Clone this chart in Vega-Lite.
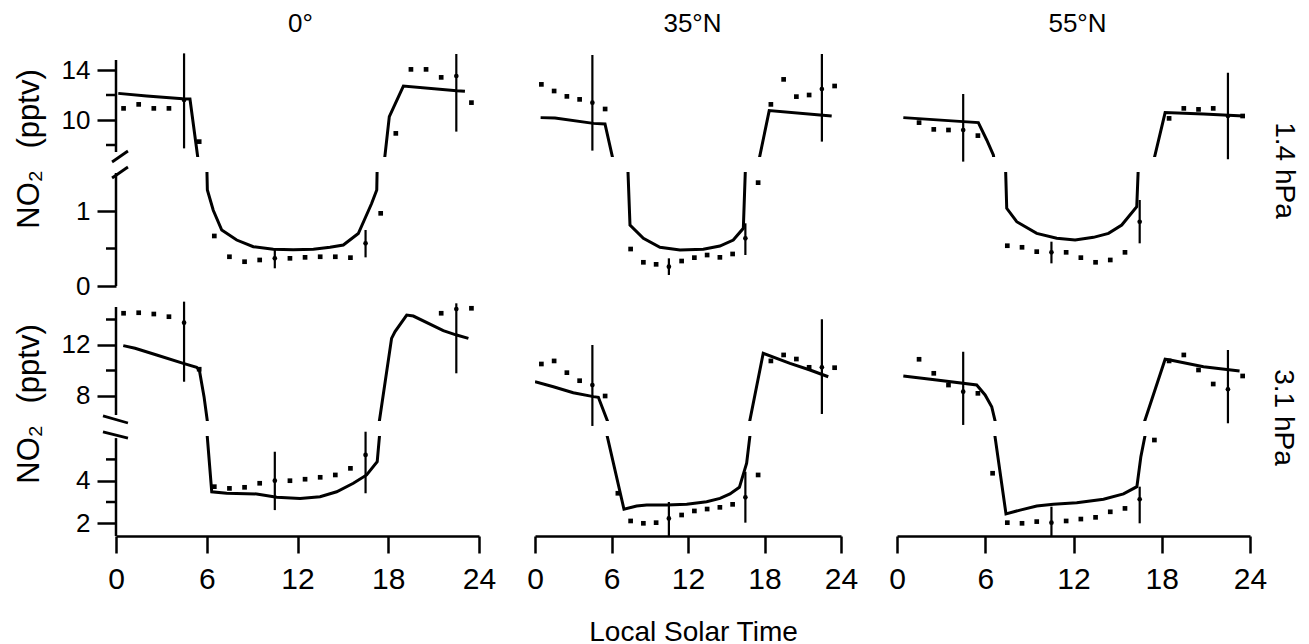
{
"$schema": "https://vega.github.io/schema/vega-lite/v6.json",
"padding": {"left": 12, "top": 10, "right": 2, "bottom": 0},
"background": "white",
"config": {
  "font": "Liberation Sans",
  "view": {"stroke": null},
  "axis": {"grid": false, "domainColor": "black", "domainWidth": 2.5, "tickColor": "black", "tickWidth": 2.5, "labelColor": "black", "titleColor": "black", "titleFontWeight": "normal", "labelFontWeight": "normal"}
},
"datasets": {
"model": [
{"lat":"0","p":1.4,"t":0.15,"v":12.13},{"lat":"0","p":1.4,"t":2.03,"v":11.92},{"lat":"0","p":1.4,"t":4.41,"v":11.7},{"lat":"0","p":1.4,"t":4.89,"v":11.68},{"lat":"0","p":1.4,"t":6.04,"v":1.28},{"lat":"0","p":1.4,"t":6.43,"v":1.01},{"lat":"0","p":1.4,"t":6.99,"v":0.747},{"lat":"0","p":1.4,"t":7.98,"v":0.613},{"lat":"0","p":1.4,"t":9.08,"v":0.524},{"lat":"0","p":1.4,"t":10.4,"v":0.489},{"lat":"0","p":1.4,"t":11.72,"v":0.485},{"lat":"0","p":1.4,"t":13.05,"v":0.489},{"lat":"0","p":1.4,"t":14.15,"v":0.516},{"lat":"0","p":1.4,"t":15.03,"v":0.547},{"lat":"0","p":1.4,"t":16.02,"v":0.7},{"lat":"0","p":1.4,"t":16.9,"v":1.1},{"lat":"0","p":1.4,"t":17.24,"v":1.28},{"lat":"0","p":1.4,"t":18.07,"v":10.27},{"lat":"0","p":1.4,"t":19.0,"v":12.72},{"lat":"0","p":1.4,"t":22.52,"v":12.34},{"lat":"0","p":1.4,"t":23.07,"v":12.3},
{"lat":"35N","p":1.4,"t":0.44,"v":10.19},{"lat":"35N","p":1.4,"t":1.57,"v":10.16},{"lat":"35N","p":1.4,"t":4.58,"v":9.73},{"lat":"35N","p":1.4,"t":5.49,"v":9.68},{"lat":"35N","p":1.4,"t":7.45,"v":0.813},{"lat":"35N","p":1.4,"t":8.5,"v":0.636},{"lat":"35N","p":1.4,"t":9.8,"v":0.516},{"lat":"35N","p":1.4,"t":11.37,"v":0.48},{"lat":"35N","p":1.4,"t":13.2,"v":0.489},{"lat":"35N","p":1.4,"t":14.5,"v":0.533},{"lat":"35N","p":1.4,"t":15.55,"v":0.613},{"lat":"35N","p":1.4,"t":16.34,"v":0.769},{"lat":"35N","p":1.4,"t":18.37,"v":10.75},{"lat":"35N","p":1.4,"t":22.35,"v":10.4},{"lat":"35N","p":1.4,"t":23.27,"v":10.32},
{"lat":"55N","p":1.4,"t":0.43,"v":10.19},{"lat":"55N","p":1.4,"t":4.51,"v":9.87},{"lat":"55N","p":1.4,"t":5.53,"v":9.79},{"lat":"55N","p":1.4,"t":6.1,"v":8.4},{"lat":"55N","p":1.4,"t":6.55,"v":7.2},{"lat":"55N","p":1.4,"t":7.46,"v":1.036},{"lat":"55N","p":1.4,"t":8.14,"v":0.857},{"lat":"55N","p":1.4,"t":9.5,"v":0.702},{"lat":"55N","p":1.4,"t":10.86,"v":0.636},{"lat":"55N","p":1.4,"t":12.11,"v":0.613},{"lat":"55N","p":1.4,"t":13.36,"v":0.649},{"lat":"55N","p":1.4,"t":14.38,"v":0.702},{"lat":"55N","p":1.4,"t":15.28,"v":0.813},{"lat":"55N","p":1.4,"t":16.3,"v":1.057},{"lat":"55N","p":1.4,"t":18.23,"v":10.59},{"lat":"55N","p":1.4,"t":20.84,"v":10.48},{"lat":"55N","p":1.4,"t":23.56,"v":10.32},
{"lat":"0","p":3.1,"t":0.48,"v":11.95},{"lat":"0","p":3.1,"t":1.26,"v":11.74},{"lat":"0","p":3.1,"t":2.69,"v":11.22},{"lat":"0","p":3.1,"t":4.45,"v":10.56},{"lat":"0","p":3.1,"t":5.33,"v":10.25},{"lat":"0","p":3.1,"t":5.51,"v":10.04},{"lat":"0","p":3.1,"t":5.82,"v":7.95},{"lat":"0","p":3.1,"t":6.33,"v":3.48},{"lat":"0","p":3.1,"t":7.32,"v":3.41},{"lat":"0","p":3.1,"t":9.3,"v":3.38},{"lat":"0","p":3.1,"t":10.63,"v":3.22},{"lat":"0","p":3.1,"t":12.17,"v":3.17},{"lat":"0","p":3.1,"t":13.49,"v":3.25},{"lat":"0","p":3.1,"t":14.59,"v":3.48},{"lat":"0","p":3.1,"t":15.69,"v":3.88},{"lat":"0","p":3.1,"t":16.57,"v":4.27},{"lat":"0","p":3.1,"t":17.27,"v":4.89},{"lat":"0","p":3.1,"t":18.22,"v":12.52},{"lat":"0","p":3.1,"t":18.45,"v":13.05},{"lat":"0","p":3.1,"t":19.22,"v":14.35},{"lat":"0","p":3.1,"t":19.66,"v":14.27},{"lat":"0","p":3.1,"t":21.64,"v":13.12},{"lat":"0","p":3.1,"t":22.52,"v":12.78},{"lat":"0","p":3.1,"t":23.3,"v":12.52},
{"lat":"35N","p":3.1,"t":0.0,"v":9.12},{"lat":"35N","p":3.1,"t":1.44,"v":8.73},{"lat":"35N","p":3.1,"t":3.0,"v":8.26},{"lat":"35N","p":3.1,"t":4.58,"v":7.95},{"lat":"35N","p":3.1,"t":4.97,"v":7.9},{"lat":"35N","p":3.1,"t":6.98,"v":2.66},{"lat":"35N","p":3.1,"t":7.97,"v":2.81},{"lat":"35N","p":3.1,"t":8.76,"v":2.86},{"lat":"35N","p":3.1,"t":10.33,"v":2.86},{"lat":"35N","p":3.1,"t":11.9,"v":2.89},{"lat":"35N","p":3.1,"t":13.46,"v":3.01},{"lat":"35N","p":3.1,"t":14.51,"v":3.17},{"lat":"35N","p":3.1,"t":15.29,"v":3.38},{"lat":"35N","p":3.1,"t":16.03,"v":3.69},{"lat":"35N","p":3.1,"t":16.6,"v":4.82},{"lat":"35N","p":3.1,"t":17.9,"v":11.35},{"lat":"35N","p":3.1,"t":20.0,"v":10.56},{"lat":"35N","p":3.1,"t":21.57,"v":10.04},{"lat":"35N","p":3.1,"t":23.0,"v":9.51},
{"lat":"55N","p":3.1,"t":0.43,"v":9.57},{"lat":"55N","p":3.1,"t":2.7,"v":9.25},{"lat":"55N","p":3.1,"t":5.42,"v":8.86},{"lat":"55N","p":3.1,"t":5.99,"v":8.08},{"lat":"55N","p":3.1,"t":6.44,"v":7.16},{"lat":"55N","p":3.1,"t":7.41,"v":2.44},{"lat":"55N","p":3.1,"t":8.37,"v":2.62},{"lat":"55N","p":3.1,"t":9.5,"v":2.81},{"lat":"55N","p":3.1,"t":10.63,"v":2.89},{"lat":"55N","p":3.1,"t":12.22,"v":2.97},{"lat":"55N","p":3.1,"t":14.04,"v":3.13},{"lat":"55N","p":3.1,"t":15.4,"v":3.38},{"lat":"55N","p":3.1,"t":16.31,"v":3.72},{"lat":"55N","p":3.1,"t":16.58,"v":5.13},{"lat":"55N","p":3.1,"t":18.23,"v":10.88},{"lat":"55N","p":3.1,"t":18.57,"v":10.82},{"lat":"55N","p":3.1,"t":20.84,"v":10.3},{"lat":"55N","p":3.1,"t":23.29,"v":9.96}
],
"obs": [
{"lat":"0","p":1.4,"t":0.5,"v":10.93},{"lat":"0","p":1.4,"t":1.5,"v":11.25},{"lat":"0","p":1.4,"t":2.5,"v":10.93},{"lat":"0","p":1.4,"t":3.5,"v":10.93},{"lat":"0","p":1.4,"t":4.5,"v":11.6,"lo":7.73,"hi":15.33},{"lat":"0","p":1.4,"t":5.5,"v":8.27},{"lat":"0","p":1.4,"t":6.5,"v":0.667},{"lat":"0","p":1.4,"t":7.5,"v":0.39},{"lat":"0","p":1.4,"t":8.5,"v":0.324},{"lat":"0","p":1.4,"t":9.5,"v":0.347},{"lat":"0","p":1.4,"t":10.5,"v":0.369,"lo":0.236,"hi":0.502},{"lat":"0","p":1.4,"t":11.5,"v":0.369},{"lat":"0","p":1.4,"t":12.5,"v":0.382},{"lat":"0","p":1.4,"t":13.5,"v":0.39},{"lat":"0","p":1.4,"t":14.5,"v":0.39},{"lat":"0","p":1.4,"t":15.5,"v":0.378},{"lat":"0","p":1.4,"t":16.5,"v":0.569,"lo":0.382,"hi":0.747},{"lat":"0","p":1.4,"t":17.5,"v":0.969},{"lat":"0","p":1.4,"t":18.5,"v":8.93},{"lat":"0","p":1.4,"t":19.5,"v":14.05},{"lat":"0","p":1.4,"t":20.5,"v":14.05},{"lat":"0","p":1.4,"t":21.5,"v":13.41},{"lat":"0","p":1.4,"t":22.5,"v":13.52,"lo":9.07,"hi":15.28},{"lat":"0","p":1.4,"t":23.5,"v":11.39},
{"lat":"35N","p":1.4,"t":0.5,"v":12.85},{"lat":"35N","p":1.4,"t":1.5,"v":12.32},{"lat":"35N","p":1.4,"t":2.5,"v":11.89},{"lat":"35N","p":1.4,"t":3.5,"v":11.65},{"lat":"35N","p":1.4,"t":4.5,"v":11.39,"lo":7.55,"hi":15.2},{"lat":"35N","p":1.4,"t":5.5,"v":10.88},{"lat":"35N","p":1.4,"t":7.5,"v":0.493},{"lat":"35N","p":1.4,"t":8.5,"v":0.316},{"lat":"35N","p":1.4,"t":9.5,"v":0.289},{"lat":"35N","p":1.4,"t":10.5,"v":0.258,"lo":0.147,"hi":0.369},{"lat":"35N","p":1.4,"t":11.5,"v":0.333},{"lat":"35N","p":1.4,"t":12.5,"v":0.378},{"lat":"35N","p":1.4,"t":13.5,"v":0.413},{"lat":"35N","p":1.4,"t":14.5,"v":0.382},{"lat":"35N","p":1.4,"t":15.5,"v":0.427},{"lat":"35N","p":1.4,"t":16.5,"v":0.636,"lo":0.413,"hi":0.836},{"lat":"35N","p":1.4,"t":17.5,"v":1.378},{"lat":"35N","p":1.4,"t":18.5,"v":11.25},{"lat":"35N","p":1.4,"t":19.5,"v":13.25},{"lat":"35N","p":1.4,"t":20.5,"v":11.87},{"lat":"35N","p":1.4,"t":21.5,"v":12.0},{"lat":"35N","p":1.4,"t":22.5,"v":12.48,"lo":8.27,"hi":15.28},{"lat":"35N","p":1.4,"t":23.5,"v":12.72},
{"lat":"55N","p":1.4,"t":1.5,"v":9.79},{"lat":"55N","p":1.4,"t":2.5,"v":9.25},{"lat":"55N","p":1.4,"t":3.5,"v":9.2},{"lat":"55N","p":1.4,"t":4.5,"v":9.2,"lo":6.67,"hi":12.08},{"lat":"55N","p":1.4,"t":5.5,"v":8.75},{"lat":"55N","p":1.4,"t":7.5,"v":0.537},{"lat":"55N","p":1.4,"t":8.5,"v":0.516},{"lat":"55N","p":1.4,"t":9.5,"v":0.458},{"lat":"55N","p":1.4,"t":10.5,"v":0.449,"lo":0.302,"hi":0.591},{"lat":"55N","p":1.4,"t":11.5,"v":0.449},{"lat":"55N","p":1.4,"t":12.5,"v":0.378},{"lat":"55N","p":1.4,"t":13.5,"v":0.316},{"lat":"55N","p":1.4,"t":14.5,"v":0.347},{"lat":"55N","p":1.4,"t":15.5,"v":0.449},{"lat":"55N","p":1.4,"t":16.5,"v":0.857,"lo":0.569,"hi":1.147},{"lat":"55N","p":1.4,"t":18.5,"v":10.13},{"lat":"55N","p":1.4,"t":19.5,"v":10.93},{"lat":"55N","p":1.4,"t":20.5,"v":10.85},{"lat":"55N","p":1.4,"t":21.5,"v":10.93},{"lat":"55N","p":1.4,"t":22.5,"v":10.32,"lo":6.86,"hi":13.78},{"lat":"55N","p":1.4,"t":23.5,"v":10.32},
{"lat":"0","p":3.1,"t":0.5,"v":14.49},{"lat":"0","p":3.1,"t":1.5,"v":14.53},{"lat":"0","p":3.1,"t":2.5,"v":14.43},{"lat":"0","p":3.1,"t":3.5,"v":14.22},{"lat":"0","p":3.1,"t":4.5,"v":13.75,"lo":9.12,"hi":15.4},{"lat":"0","p":3.1,"t":5.5,"v":10.1},{"lat":"0","p":3.1,"t":6.5,"v":3.72},{"lat":"0","p":3.1,"t":7.5,"v":3.64},{"lat":"0","p":3.1,"t":8.5,"v":3.69},{"lat":"0","p":3.1,"t":9.5,"v":3.88},{"lat":"0","p":3.1,"t":10.5,"v":4.0,"lo":2.62,"hi":5.36},{"lat":"0","p":3.1,"t":11.5,"v":4.0},{"lat":"0","p":3.1,"t":12.5,"v":4.07},{"lat":"0","p":3.1,"t":13.5,"v":4.16},{"lat":"0","p":3.1,"t":14.5,"v":4.27},{"lat":"0","p":3.1,"t":15.5,"v":4.58},{"lat":"0","p":3.1,"t":16.5,"v":5.21,"lo":3.41,"hi":6.3},{"lat":"0","p":3.1,"t":21.5,"v":14.49},{"lat":"0","p":3.1,"t":22.5,"v":14.82,"lo":9.78,"hi":15.27},{"lat":"0","p":3.1,"t":23.5,"v":14.88},
{"lat":"35N","p":3.1,"t":0.5,"v":10.51},{"lat":"35N","p":3.1,"t":1.5,"v":10.75},{"lat":"35N","p":3.1,"t":2.5,"v":9.83},{"lat":"35N","p":3.1,"t":3.5,"v":9.2},{"lat":"35N","p":3.1,"t":4.5,"v":8.86,"lo":5.65,"hi":12.0},{"lat":"35N","p":3.1,"t":5.5,"v":8.0},{"lat":"35N","p":3.1,"t":6.5,"v":3.41},{"lat":"35N","p":3.1,"t":7.5,"v":2.11},{"lat":"35N","p":3.1,"t":8.5,"v":2.0},{"lat":"35N","p":3.1,"t":9.5,"v":2.03},{"lat":"35N","p":3.1,"t":10.5,"v":2.23,"lo":1.4,"hi":3.0},{"lat":"35N","p":3.1,"t":11.5,"v":2.39},{"lat":"35N","p":3.1,"t":12.5,"v":2.58},{"lat":"35N","p":3.1,"t":13.5,"v":2.67},{"lat":"35N","p":3.1,"t":14.5,"v":2.75},{"lat":"35N","p":3.1,"t":15.5,"v":2.89},{"lat":"35N","p":3.1,"t":16.5,"v":3.22,"lo":2.03,"hi":4.42},{"lat":"35N","p":3.1,"t":17.5,"v":4.27},{"lat":"35N","p":3.1,"t":18.5,"v":10.75},{"lat":"35N","p":3.1,"t":19.5,"v":11.22},{"lat":"35N","p":3.1,"t":20.5,"v":10.9},{"lat":"35N","p":3.1,"t":21.5,"v":10.25},{"lat":"35N","p":3.1,"t":22.5,"v":10.25,"lo":6.59,"hi":14.02},{"lat":"35N","p":3.1,"t":23.5,"v":10.22},
{"lat":"55N","p":3.1,"t":1.5,"v":10.88},{"lat":"55N","p":3.1,"t":2.5,"v":9.78},{"lat":"55N","p":3.1,"t":3.5,"v":8.86},{"lat":"55N","p":3.1,"t":4.5,"v":8.34,"lo":5.73,"hi":11.47},{"lat":"55N","p":3.1,"t":5.5,"v":8.21},{"lat":"55N","p":3.1,"t":6.5,"v":4.35},{"lat":"55N","p":3.1,"t":7.5,"v":2.03},{"lat":"55N","p":3.1,"t":8.5,"v":2.0},{"lat":"55N","p":3.1,"t":9.5,"v":2.08},{"lat":"55N","p":3.1,"t":10.5,"v":2.03,"lo":1.4,"hi":2.78},{"lat":"55N","p":3.1,"t":11.5,"v":2.11},{"lat":"55N","p":3.1,"t":12.5,"v":2.2},{"lat":"55N","p":3.1,"t":13.5,"v":2.28},{"lat":"55N","p":3.1,"t":14.5,"v":2.54},{"lat":"55N","p":3.1,"t":15.5,"v":2.7},{"lat":"55N","p":3.1,"t":16.5,"v":3.13,"lo":2.0,"hi":3.72},{"lat":"55N","p":3.1,"t":17.5,"v":5.91},{"lat":"55N","p":3.1,"t":18.5,"v":10.75},{"lat":"55N","p":3.1,"t":19.5,"v":11.22},{"lat":"55N","p":3.1,"t":20.5,"v":10.04},{"lat":"55N","p":3.1,"t":21.5,"v":8.94},{"lat":"55N","p":3.1,"t":22.5,"v":8.53,"lo":5.86,"hi":11.61},{"lat":"55N","p":3.1,"t":23.5,"v":9.57}
]
},
"columns": 3,
"spacing": {"row": 15, "column": 56},
"bounds": "flush",
"align": "each",
"concat": [
{"width": 363, "height": 97, "layer": [
  {"data": {"name": "model"}, "transform": [{"filter": "datum.lat == '0' && datum.p == 1.4"}], "mark": {"type": "line", "clip": true, "color": "black", "strokeWidth": 3},
   "encoding": {"x": {"field": "t", "type": "quantitative", "scale": {"domain": [0, 24], "nice": false, "zero": false}, "axis": {"orient": "top", "domain": false, "ticks": false, "labels": false, "title": "0°", "titleFontSize": 26, "titleX": 184, "titleY": -29, "titleAlign": "center", "titleBaseline": "alphabetic", "titleAngle": 0}},
     "y": {"field": "v", "type": "quantitative", "scale": {"domain": [7.04, 14.8], "nice": false, "zero": false}, "axis": {"orient": "left", "domain": false, "values": [14, 10], "format": "d", "tickSize": 19, "labelFontSize": 26, "labelPadding": 7, "labelOverlap": false, "labelFlush": false, "title": "NO\u2082\u2002\u2009(pptv)", "titleFontSize": 31, "titleAngle": -90, "titleX": -78, "titleY": 88.5, "titleAlign": "center", "titleBaseline": "alphabetic"}}}},
  {"data": {"values": [{}]}, "mark": {"type": "rule", "color": "black", "strokeWidth": 2.5}, "encoding": {"x": {"datum": 0, "type": "quantitative"}, "y": {"datum": 14.8, "type": "quantitative"}, "y2": {"datum": 7.44}}},
  {"data": {"values": [{}]}, "mark": {"type": "rule", "color": "black", "strokeWidth": 2.5}, "encoding": {"x": {"datum": -0.661, "type": "quantitative"}, "x2": {"datum": 0}, "y": {"datum": 12, "type": "quantitative"}}},
  {"data": {"values": [{}]}, "mark": {"type": "rule", "color": "black", "strokeWidth": 2.5}, "encoding": {"x": {"datum": -0.661, "type": "quantitative"}, "x2": {"datum": 0}, "y": {"datum": 8, "type": "quantitative"}}},
  {"data": {"name": "obs"}, "transform": [{"filter": "datum.lat == '0' && datum.p == 1.4 && datum.v >= 5"}], "layer": [
    {"transform": [{"filter": "isValid(datum.lo)"}], "mark": {"type": "rule", "color": "black", "strokeWidth": 2.2}, "encoding": {"x": {"field": "t", "type": "quantitative"}, "y": {"field": "lo", "type": "quantitative"}, "y2": {"field": "hi"}}},
    {"mark": {"type": "point", "filled": true, "color": "black", "opacity": 1, "size": 22}, "encoding": {"x": {"field": "t", "type": "quantitative"}, "y": {"field": "v", "type": "quantitative"}, "shape": {"condition": {"test": "isValid(datum.lo)", "value": "circle"}, "value": "square"}}}
  ]}
]},
{"width": 306, "height": 97, "layer": [
  {"data": {"name": "model"}, "transform": [{"filter": "datum.lat == '35N' && datum.p == 1.4"}], "mark": {"type": "line", "clip": true, "color": "black", "strokeWidth": 3},
   "encoding": {"x": {"field": "t", "type": "quantitative", "scale": {"domain": [0, 24], "nice": false, "zero": false}, "axis": {"orient": "top", "domain": false, "ticks": false, "labels": false, "title": "35°N", "titleFontSize": 26, "titleX": 157, "titleY": -29, "titleAlign": "center", "titleBaseline": "alphabetic", "titleAngle": 0}},
     "y": {"field": "v", "type": "quantitative", "scale": {"domain": [7.04, 14.8], "nice": false, "zero": false}, "axis": null}}},
  {"data": {"name": "obs"}, "transform": [{"filter": "datum.lat == '35N' && datum.p == 1.4 && datum.v >= 5"}], "layer": [
    {"transform": [{"filter": "isValid(datum.lo)"}], "mark": {"type": "rule", "color": "black", "strokeWidth": 2.2}, "encoding": {"x": {"field": "t", "type": "quantitative"}, "y": {"field": "lo", "type": "quantitative"}, "y2": {"field": "hi"}}},
    {"mark": {"type": "point", "filled": true, "color": "black", "opacity": 1, "size": 22}, "encoding": {"x": {"field": "t", "type": "quantitative"}, "y": {"field": "v", "type": "quantitative"}, "shape": {"condition": {"test": "isValid(datum.lo)", "value": "circle"}, "value": "square"}}}
  ]}
]},
{"width": 353, "height": 97, "layer": [
  {"data": {"name": "model"}, "transform": [{"filter": "datum.lat == '55N' && datum.p == 1.4"}], "mark": {"type": "line", "clip": true, "color": "black", "strokeWidth": 3},
   "encoding": {"x": {"field": "t", "type": "quantitative", "scale": {"domain": [0, 24], "nice": false, "zero": false}, "axis": {"orient": "top", "domain": false, "ticks": false, "labels": false, "title": "55°N", "titleFontSize": 26, "titleX": 180, "titleY": -29, "titleAlign": "center", "titleBaseline": "alphabetic", "titleAngle": 0}},
     "y": {"field": "v", "type": "quantitative", "scale": {"domain": [7.04, 14.8], "nice": false, "zero": false}, "axis": {"orient": "right", "domain": false, "ticks": false, "labels": false, "title": "1.4 hPa", "titleFontSize": 28, "titleAngle": 90, "titleX": 25, "titleY": 110, "titleAlign": "center", "titleBaseline": "alphabetic"}}}},
  {"data": {"name": "obs"}, "transform": [{"filter": "datum.lat == '55N' && datum.p == 1.4 && datum.v >= 5"}], "layer": [
    {"transform": [{"filter": "isValid(datum.lo)"}], "mark": {"type": "rule", "color": "black", "strokeWidth": 2.2}, "encoding": {"x": {"field": "t", "type": "quantitative"}, "y": {"field": "lo", "type": "quantitative"}, "y2": {"field": "hi"}}},
    {"mark": {"type": "point", "filled": true, "color": "black", "opacity": 1, "size": 22}, "encoding": {"x": {"field": "t", "type": "quantitative"}, "y": {"field": "v", "type": "quantitative"}, "shape": {"condition": {"test": "isValid(datum.lo)", "value": "circle"}, "value": "square"}}}
  ]}
]},
{"width": 363, "height": 114, "layer": [
  {"data": {"name": "model"}, "transform": [{"filter": "datum.lat == '0' && datum.p == 1.4"}], "mark": {"type": "line", "clip": true, "color": "black", "strokeWidth": 3},
   "encoding": {"x": {"field": "t", "type": "quantitative", "scale": {"domain": [0, 24], "nice": false, "zero": false}, "axis": null},
     "y": {"field": "v", "type": "quantitative", "scale": {"domain": [0, 1.52], "nice": false, "zero": false}, "axis": {"orient": "left", "domain": false, "values": [1, 0], "format": "d", "tickSize": 19, "labelFontSize": 26, "labelPadding": 7, "labelOverlap": false, "labelFlush": false, "title": null}}}},
  {"data": {"values": [{}]}, "mark": {"type": "rule", "color": "black", "strokeWidth": 2.5}, "encoding": {"x": {"datum": 0, "type": "quantitative"}, "y": {"datum": 1.507, "type": "quantitative"}, "y2": {"datum": 0}}},
  {"data": {"values": [{}]}, "mark": {"type": "rule", "color": "black", "strokeWidth": 2.5}, "encoding": {"x": {"datum": -0.661, "type": "quantitative"}, "x2": {"datum": 0}, "y": {"datum": 0.5, "type": "quantitative"}}},
  {"data": {"values": [{}]}, "mark": {"type": "rule", "color": "black", "strokeWidth": 2.8}, "encoding": {"x": {"datum": -0.26, "type": "quantitative"}, "x2": {"datum": 0.79}, "y": {"datum": 1.653, "type": "quantitative"}, "y2": {"datum": 1.8}}},
  {"data": {"values": [{}]}, "mark": {"type": "rule", "color": "black", "strokeWidth": 2.8}, "encoding": {"x": {"datum": -0.26, "type": "quantitative"}, "x2": {"datum": 0.79}, "y": {"datum": 1.44, "type": "quantitative"}, "y2": {"datum": 1.587}}},
  {"data": {"name": "obs"}, "transform": [{"filter": "datum.lat == '0' && datum.p == 1.4 && datum.v < 5"}], "layer": [
    {"transform": [{"filter": "isValid(datum.lo)"}], "mark": {"type": "rule", "color": "black", "strokeWidth": 2.2}, "encoding": {"x": {"field": "t", "type": "quantitative"}, "y": {"field": "lo", "type": "quantitative"}, "y2": {"field": "hi"}}},
    {"mark": {"type": "point", "filled": true, "color": "black", "opacity": 1, "size": 22}, "encoding": {"x": {"field": "t", "type": "quantitative"}, "y": {"field": "v", "type": "quantitative"}, "shape": {"condition": {"test": "isValid(datum.lo)", "value": "circle"}, "value": "square"}}}
  ]}
]},
{"width": 306, "height": 114, "layer": [
  {"data": {"name": "model"}, "transform": [{"filter": "datum.lat == '35N' && datum.p == 1.4"}], "mark": {"type": "line", "clip": true, "color": "black", "strokeWidth": 3},
   "encoding": {"x": {"field": "t", "type": "quantitative", "scale": {"domain": [0, 24], "nice": false, "zero": false}, "axis": null},
     "y": {"field": "v", "type": "quantitative", "scale": {"domain": [0, 1.52], "nice": false, "zero": false}, "axis": null}}},
  {"data": {"name": "obs"}, "transform": [{"filter": "datum.lat == '35N' && datum.p == 1.4 && datum.v < 5"}], "layer": [
    {"transform": [{"filter": "isValid(datum.lo)"}], "mark": {"type": "rule", "color": "black", "strokeWidth": 2.2}, "encoding": {"x": {"field": "t", "type": "quantitative"}, "y": {"field": "lo", "type": "quantitative"}, "y2": {"field": "hi"}}},
    {"mark": {"type": "point", "filled": true, "color": "black", "opacity": 1, "size": 22}, "encoding": {"x": {"field": "t", "type": "quantitative"}, "y": {"field": "v", "type": "quantitative"}, "shape": {"condition": {"test": "isValid(datum.lo)", "value": "circle"}, "value": "square"}}}
  ]}
]},
{"width": 353, "height": 114, "layer": [
  {"data": {"name": "model"}, "transform": [{"filter": "datum.lat == '55N' && datum.p == 1.4"}], "mark": {"type": "line", "clip": true, "color": "black", "strokeWidth": 3},
   "encoding": {"x": {"field": "t", "type": "quantitative", "scale": {"domain": [0, 24], "nice": false, "zero": false}, "axis": null},
     "y": {"field": "v", "type": "quantitative", "scale": {"domain": [0, 1.52], "nice": false, "zero": false}, "axis": null}}},
  {"data": {"name": "obs"}, "transform": [{"filter": "datum.lat == '55N' && datum.p == 1.4 && datum.v < 5"}], "layer": [
    {"transform": [{"filter": "isValid(datum.lo)"}], "mark": {"type": "rule", "color": "black", "strokeWidth": 2.2}, "encoding": {"x": {"field": "t", "type": "quantitative"}, "y": {"field": "lo", "type": "quantitative"}, "y2": {"field": "hi"}}},
    {"mark": {"type": "point", "filled": true, "color": "black", "opacity": 1, "size": 22}, "encoding": {"x": {"field": "t", "type": "quantitative"}, "y": {"field": "v", "type": "quantitative"}, "shape": {"condition": {"test": "isValid(datum.lo)", "value": "circle"}, "value": "square"}}}
  ]}
]},
{"width": 363, "height": 120, "layer": [
  {"data": {"name": "model"}, "transform": [{"filter": "datum.lat == '0' && datum.p == 3.1"}], "mark": {"type": "line", "clip": true, "color": "black", "strokeWidth": 3},
   "encoding": {"x": {"field": "t", "type": "quantitative", "scale": {"domain": [0, 24], "nice": false, "zero": false}, "axis": null},
     "y": {"field": "v", "type": "quantitative", "scale": {"domain": [6.039, 15.451], "nice": false, "zero": false}, "axis": {"orient": "left", "domain": false, "values": [12, 8], "format": "d", "tickSize": 19, "labelFontSize": 26, "labelPadding": 7, "labelOverlap": false, "labelFlush": false, "title": "NO\u2082\u2002\u2009(pptv)", "titleFontSize": 31, "titleAngle": -90, "titleX": -78, "titleY": 102.5, "titleAlign": "center", "titleBaseline": "alphabetic"}}}},
  {"data": {"values": [{}]}, "mark": {"type": "rule", "color": "black", "strokeWidth": 2.5}, "encoding": {"x": {"datum": 0, "type": "quantitative"}, "y": {"datum": 14.98, "type": "quantitative"}, "y2": {"datum": 6.51}}},
  {"data": {"values": [{}]}, "mark": {"type": "rule", "color": "black", "strokeWidth": 2.5}, "encoding": {"x": {"datum": -0.661, "type": "quantitative"}, "x2": {"datum": 0}, "y": {"datum": 14, "type": "quantitative"}}},
  {"data": {"values": [{}]}, "mark": {"type": "rule", "color": "black", "strokeWidth": 2.5}, "encoding": {"x": {"datum": -0.661, "type": "quantitative"}, "x2": {"datum": 0}, "y": {"datum": 10, "type": "quantitative"}}},
  {"data": {"name": "obs"}, "transform": [{"filter": "datum.lat == '0' && datum.p == 3.1 && datum.v >= 6"}], "layer": [
    {"transform": [{"filter": "isValid(datum.lo)"}], "mark": {"type": "rule", "color": "black", "strokeWidth": 2.2}, "encoding": {"x": {"field": "t", "type": "quantitative"}, "y": {"field": "lo", "type": "quantitative"}, "y2": {"field": "hi"}}},
    {"mark": {"type": "point", "filled": true, "color": "black", "opacity": 1, "size": 22}, "encoding": {"x": {"field": "t", "type": "quantitative"}, "y": {"field": "v", "type": "quantitative"}, "shape": {"condition": {"test": "isValid(datum.lo)", "value": "circle"}, "value": "square"}}}
  ]}
]},
{"width": 306, "height": 120, "layer": [
  {"data": {"name": "model"}, "transform": [{"filter": "datum.lat == '35N' && datum.p == 3.1"}], "mark": {"type": "line", "clip": true, "color": "black", "strokeWidth": 3},
   "encoding": {"x": {"field": "t", "type": "quantitative", "scale": {"domain": [0, 24], "nice": false, "zero": false}, "axis": null},
     "y": {"field": "v", "type": "quantitative", "scale": {"domain": [6.039, 15.451], "nice": false, "zero": false}, "axis": null}}},
  {"data": {"name": "obs"}, "transform": [{"filter": "datum.lat == '35N' && datum.p == 3.1 && datum.v >= 6"}], "layer": [
    {"transform": [{"filter": "isValid(datum.lo)"}], "mark": {"type": "rule", "color": "black", "strokeWidth": 2.2}, "encoding": {"x": {"field": "t", "type": "quantitative"}, "y": {"field": "lo", "type": "quantitative"}, "y2": {"field": "hi"}}},
    {"mark": {"type": "point", "filled": true, "color": "black", "opacity": 1, "size": 22}, "encoding": {"x": {"field": "t", "type": "quantitative"}, "y": {"field": "v", "type": "quantitative"}, "shape": {"condition": {"test": "isValid(datum.lo)", "value": "circle"}, "value": "square"}}}
  ]}
]},
{"width": 353, "height": 120, "layer": [
  {"data": {"name": "model"}, "transform": [{"filter": "datum.lat == '55N' && datum.p == 3.1"}], "mark": {"type": "line", "clip": true, "color": "black", "strokeWidth": 3},
   "encoding": {"x": {"field": "t", "type": "quantitative", "scale": {"domain": [0, 24], "nice": false, "zero": false}, "axis": null},
     "y": {"field": "v", "type": "quantitative", "scale": {"domain": [6.039, 15.451], "nice": false, "zero": false}, "axis": {"orient": "right", "domain": false, "ticks": false, "labels": false, "title": "3.1 hPa", "titleFontSize": 28, "titleAngle": 90, "titleX": 24, "titleY": 116, "titleAlign": "center", "titleBaseline": "alphabetic"}}}},
  {"data": {"name": "obs"}, "transform": [{"filter": "datum.lat == '55N' && datum.p == 3.1 && datum.v >= 6"}], "layer": [
    {"transform": [{"filter": "isValid(datum.lo)"}], "mark": {"type": "rule", "color": "black", "strokeWidth": 2.2}, "encoding": {"x": {"field": "t", "type": "quantitative"}, "y": {"field": "lo", "type": "quantitative"}, "y2": {"field": "hi"}}},
    {"mark": {"type": "point", "filled": true, "color": "black", "opacity": 1, "size": 22}, "encoding": {"x": {"field": "t", "type": "quantitative"}, "y": {"field": "v", "type": "quantitative"}, "shape": {"condition": {"test": "isValid(datum.lo)", "value": "circle"}, "value": "square"}}}
  ]}
]},
{"width": 363, "height": 100, "layer": [
  {"data": {"name": "model"}, "transform": [{"filter": "datum.lat == '0' && datum.p == 3.1"}], "mark": {"type": "line", "clip": true, "color": "black", "strokeWidth": 3},
   "encoding": {"x": {"field": "t", "type": "quantitative", "scale": {"domain": [0, 24], "nice": false, "zero": false}, "axis": {"orient": "bottom", "values": [0, 6, 12, 18, 24], "tickSize": 17, "labelFontSize": 30, "labelPadding": 11, "labelFlush": false, "labelOverlap": false, "title": null}},
     "y": {"field": "v", "type": "quantitative", "scale": {"domain": [1.404, 6.099], "nice": false, "zero": false}, "axis": {"orient": "left", "domain": false, "values": [4, 2], "format": "d", "tickSize": 19, "labelFontSize": 26, "labelPadding": 7, "labelOverlap": false, "labelFlush": false, "title": null}}}},
  {"data": {"values": [{}]}, "mark": {"type": "rule", "color": "black", "strokeWidth": 2.5}, "encoding": {"x": {"datum": 0, "type": "quantitative"}, "y": {"datum": 6.0, "type": "quantitative"}, "y2": {"datum": 1.404}}},
  {"data": {"values": [{}]}, "mark": {"type": "rule", "color": "black", "strokeWidth": 2.5}, "encoding": {"x": {"datum": -0.661, "type": "quantitative"}, "x2": {"datum": 0}, "y": {"datum": 5, "type": "quantitative"}}},
  {"data": {"values": [{}]}, "mark": {"type": "rule", "color": "black", "strokeWidth": 2.5}, "encoding": {"x": {"datum": -0.661, "type": "quantitative"}, "x2": {"datum": 0}, "y": {"datum": 3, "type": "quantitative"}}},
  {"data": {"values": [{}]}, "mark": {"type": "rule", "color": "black", "strokeWidth": 2.8}, "encoding": {"x": {"datum": -0.86, "type": "quantitative"}, "x2": {"datum": 0.79}, "y": {"datum": 7.04, "type": "quantitative"}, "y2": {"datum": 6.71}}},
  {"data": {"values": [{}]}, "mark": {"type": "rule", "color": "black", "strokeWidth": 2.8}, "encoding": {"x": {"datum": -0.86, "type": "quantitative"}, "x2": {"datum": 0.79}, "y": {"datum": 6.29, "type": "quantitative"}, "y2": {"datum": 6.0}}},
  {"data": {"name": "obs"}, "transform": [{"filter": "datum.lat == '0' && datum.p == 3.1 && datum.v < 6"}], "layer": [
    {"transform": [{"filter": "isValid(datum.lo)"}], "mark": {"type": "rule", "color": "black", "strokeWidth": 2.2}, "encoding": {"x": {"field": "t", "type": "quantitative"}, "y": {"field": "lo", "type": "quantitative"}, "y2": {"field": "hi"}}},
    {"mark": {"type": "point", "filled": true, "color": "black", "opacity": 1, "size": 22}, "encoding": {"x": {"field": "t", "type": "quantitative"}, "y": {"field": "v", "type": "quantitative"}, "shape": {"condition": {"test": "isValid(datum.lo)", "value": "circle"}, "value": "square"}}}
  ]}
]},
{"width": 306, "height": 100, "layer": [
  {"data": {"name": "model"}, "transform": [{"filter": "datum.lat == '35N' && datum.p == 3.1"}], "mark": {"type": "line", "clip": true, "color": "black", "strokeWidth": 3},
   "encoding": {"x": {"field": "t", "type": "quantitative", "scale": {"domain": [0, 24], "nice": false, "zero": false}, "axis": {"orient": "bottom", "values": [0, 6, 12, 18, 24], "tickSize": 17, "labelFontSize": 30, "labelPadding": 11, "labelFlush": false, "labelOverlap": false, "title": "Local Solar Time", "titleFontSize": 28, "titleX": 158, "titleY": 104, "titleAlign": "center", "titleBaseline": "alphabetic"}},
     "y": {"field": "v", "type": "quantitative", "scale": {"domain": [1.404, 6.099], "nice": false, "zero": false}, "axis": null}}},
  {"data": {"name": "obs"}, "transform": [{"filter": "datum.lat == '35N' && datum.p == 3.1 && datum.v < 6"}], "layer": [
    {"transform": [{"filter": "isValid(datum.lo)"}], "mark": {"type": "rule", "color": "black", "strokeWidth": 2.2}, "encoding": {"x": {"field": "t", "type": "quantitative"}, "y": {"field": "lo", "type": "quantitative"}, "y2": {"field": "hi"}}},
    {"mark": {"type": "point", "filled": true, "color": "black", "opacity": 1, "size": 22}, "encoding": {"x": {"field": "t", "type": "quantitative"}, "y": {"field": "v", "type": "quantitative"}, "shape": {"condition": {"test": "isValid(datum.lo)", "value": "circle"}, "value": "square"}}}
  ]}
]},
{"width": 353, "height": 100, "layer": [
  {"data": {"name": "model"}, "transform": [{"filter": "datum.lat == '55N' && datum.p == 3.1"}], "mark": {"type": "line", "clip": true, "color": "black", "strokeWidth": 3},
   "encoding": {"x": {"field": "t", "type": "quantitative", "scale": {"domain": [0, 24], "nice": false, "zero": false}, "axis": {"orient": "bottom", "values": [0, 6, 12, 18, 24], "tickSize": 17, "labelFontSize": 30, "labelPadding": 11, "labelFlush": false, "labelOverlap": false, "title": null}},
     "y": {"field": "v", "type": "quantitative", "scale": {"domain": [1.404, 6.099], "nice": false, "zero": false}, "axis": null}}},
  {"data": {"name": "obs"}, "transform": [{"filter": "datum.lat == '55N' && datum.p == 3.1 && datum.v < 6"}], "layer": [
    {"transform": [{"filter": "isValid(datum.lo)"}], "mark": {"type": "rule", "color": "black", "strokeWidth": 2.2}, "encoding": {"x": {"field": "t", "type": "quantitative"}, "y": {"field": "lo", "type": "quantitative"}, "y2": {"field": "hi"}}},
    {"mark": {"type": "point", "filled": true, "color": "black", "opacity": 1, "size": 22}, "encoding": {"x": {"field": "t", "type": "quantitative"}, "y": {"field": "v", "type": "quantitative"}, "shape": {"condition": {"test": "isValid(datum.lo)", "value": "circle"}, "value": "square"}}}
  ]}
]}
]
}
